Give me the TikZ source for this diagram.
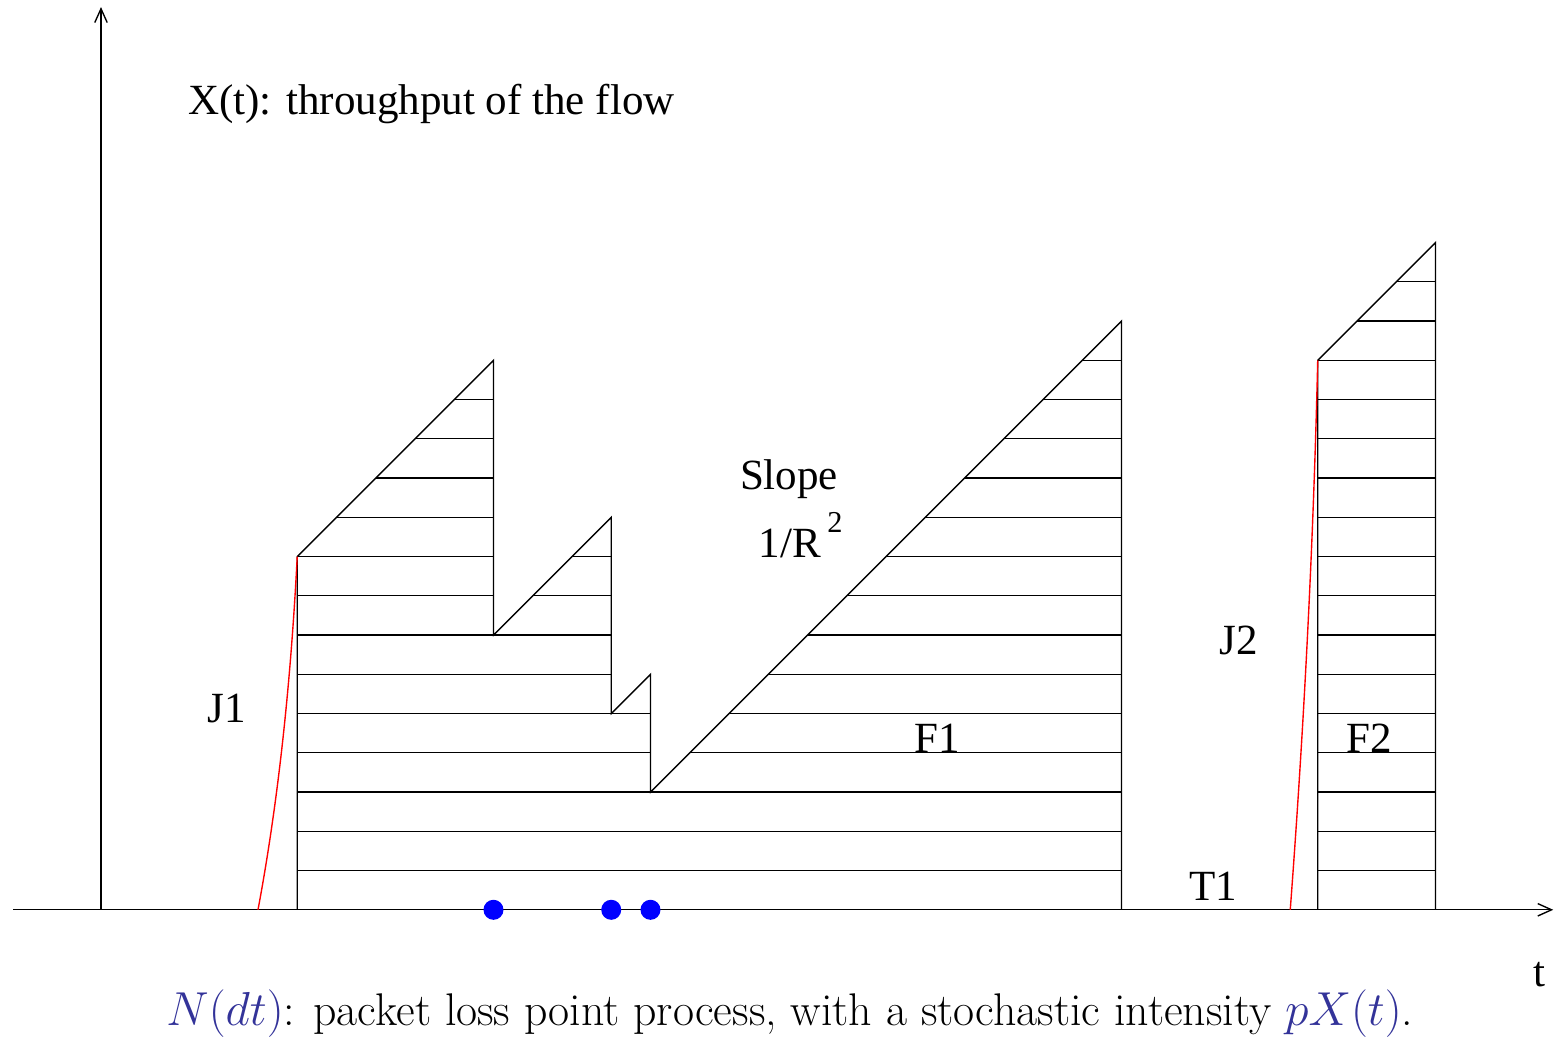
\documentclass[tikz,border=0pt]{standalone}
\usepackage{fontspec}
\newfontfamily\timesfont{Liberation Serif}
\usetikzlibrary{arrows.meta}
\definecolor{capblue}{RGB}{51,51,153}

\begin{document}
\begin{tikzpicture}[x=0.5cm, y=0.5cm, >={Straight Barb[length=5pt,width=4.5pt]}, line width=0.5pt,
    lbl/.style={inner sep=0pt, font=\timesfont\fontsize{15.6}{18}\selectfont},
    jump/.style={red, line width=0.5pt}]
  \useasboundingbox (-2.573,-3.363) rectangle (37.02,23.18);
  % axes
  \coordinate (O) at (0,0);
  \coordinate (xs) at (-2.24,0);
  \coordinate (xe) at (37,0);
  \coordinate (ye) at (0,23);
  \draw[->] (xs)--(xe);
  \draw[->] (O)--(ye);
  % first flow F1: corners of the sawtooth
  \coordinate (S) at (5,0);
  \coordinate (A) at (5,9);
  \coordinate (B) at (10,14);
  \coordinate (C) at (10,7);
  \coordinate (D) at (13,10);
  \coordinate (E) at (13,5);
  \coordinate (F) at (14,6);
  \coordinate (G) at (14,3);
  \coordinate (H) at (26,15);
  \coordinate (I) at (26,0);
  \begin{scope}
    \clip (S)--(A)--(B)--(C)--(D)--(E)--(F)--(G)--(H)--(I)--cycle;
    \foreach \k in {1,...,14} \draw (5,\k)--(26,\k);
  \end{scope}
  \draw (S)--(A)--(B)--(C)--(D)--(E)--(F)--(G)--(H)--(I);
  % second flow F2
  \coordinate (K) at (31,0);
  \coordinate (L) at (31,14);
  \coordinate (M) at (34,17);
  \coordinate (N) at (34,0);
  \begin{scope}
    \clip (K)--(L)--(M)--(N)--cycle;
    \foreach \k in {1,...,16} \draw (31,\k)--(34,\k);
  \end{scope}
  \draw (K)--(L)--(M)--(N);
  % jumps J1 and J2
  \coordinate (j1) at (4,0);
  \coordinate (j2) at (30.3,0);
  \draw[jump] (j1) .. controls (4.5,2.67) and (4.83,5.67) .. (A);
  \draw[jump] (j2) .. controls (30.65,4.67) and (30.89,9.33) .. (L);
  % loss points on the time axis
  \foreach \x in {10,13,14} \fill[blue] (\x,0) circle (0.255);
  % labels
  \node[lbl] (title) at (8.42,20.52) {X(t): throughput of the flow};
  \node[lbl] (slope) at (17.53,10.98) {Slope};
  \node[lbl] (rtt) at (17.55,9.33) {1/R};
  \node[lbl, font=\timesfont\fontsize{11}{13}\selectfont] (sq) at (18.7,9.88) {2};
  \node[lbl] (J1) at (3.21,5.12) {J1};
  \node[lbl] (F1) at (21.3,4.36) {F1};
  \node[lbl] (J2) at (28.99,6.85) {J2};
  \node[lbl] (F2) at (32.31,4.36) {F2};
  \node[lbl] (T1) at (28.33,0.61) {T1};
  \node[lbl] (t) at (36.66,-1.66) {t};
  \node[inner sep=0pt, font=\fontsize{16.6}{20}\selectfont] (cap) at (17.55,-2.64)
    {$\color{capblue}N(dt)$: packet loss point process, with a stochastic intensity $\color{capblue}pX(t)$.};
\end{tikzpicture}
\end{document}
